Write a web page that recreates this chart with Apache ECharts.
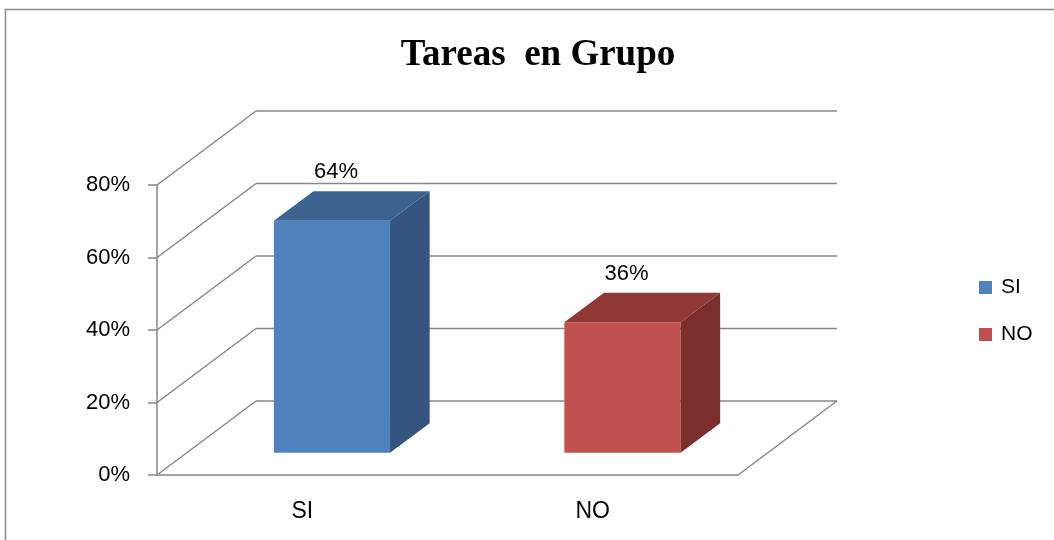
<!DOCTYPE html>
<html>
<head>
<meta charset="utf-8">
<title>Tareas en Grupo</title>
<script src="https://cdn.jsdelivr.net/npm/echarts@6/dist/echarts.min.js"></script>
<style>
    html, body { margin: 0; padding: 0; background: #fff; }
    #main { width: 1054px; height: 540px; }
</style>
</head>
<body>
<div id="main"></div>
<script>
// datos del grafico
var categorias = ['SI', 'NO'];
var valores = [64, 36];
var ticksY = [0, 20, 40, 60, 80];
var coloresFrente = ['#4F81BD', '#C0504D'];
var coloresTapa = ['#3D6391', '#8F3937'];
var coloresLado = ['#33557F', '#7A2F2D'];

(function () {
    var myChart = echarts.init(document.getElementById('main'));

    // desplazamiento de la profundidad (efecto 3D) en pixeles
    var PROF_X = 99;
    var PROF_Y = -74;
    var GRIS = '#878787';
    var FUENTE = '"Liberation Sans", Arial, sans-serif';

    // paredes: diagonales + lineas del fondo para cada marca del eje Y
    function pared(params, api) {
        var cs = params.coordSys;
        var p = api.coord([0, api.value(1)]);
        var y = p[1];
        var xi = cs.x, xd = cs.x + cs.width;
        var hijos = [
            { type: 'line', shape: { x1: xi, y1: y, x2: xi + PROF_X, y2: y + PROF_Y } },
            { type: 'line', shape: { x1: xi + PROF_X, y1: y + PROF_Y, x2: xd + PROF_X, y2: y + PROF_Y } }
        ];
        if (api.value(1) === 0) {
            hijos.push({ type: 'line', shape: { x1: xd, y1: y, x2: xd + PROF_X, y2: y + PROF_Y } });
        }
        hijos.forEach(function (h) {
            h.style = { stroke: GRIS, lineWidth: 1.5, fill: null };
        });
        return { type: 'group', children: hijos };
    }

    function barra(idx) {
        return function (params, api) {
            var base = api.coord([api.value(0), 0]);
            var tope = api.coord([api.value(0), api.value(1)]);
            var banda = api.size([1, 0])[0];
            var w = banda * 0.4;
            // la barra ocupa del 30% al 70% de la profundidad
            var ox = PROF_X * 0.3, oy = PROF_Y * 0.3;
            var dx = PROF_X * 0.4, dy = PROF_Y * 0.4;
            var x0 = base[0] - w / 2 + ox, x1 = x0 + w;
            var yb = base[1] + oy, yt = tope[1] + oy;
            return {
                type: 'group',
                children: [
                    {
                        type: 'polygon',
                        shape: { points: [[x0, yt], [x1, yt], [x1, yb], [x0, yb]] },
                        style: { fill: coloresFrente[idx] }
                    },
                    {
                        type: 'polygon',
                        shape: { points: [[x0, yt], [x0 + dx, yt + dy], [x1 + dx, yt + dy], [x1, yt]] },
                        style: { fill: coloresTapa[idx] }
                    },
                    {
                        type: 'polygon',
                        shape: { points: [[x1, yt], [x1 + dx, yt + dy], [x1 + dx, yb + dy], [x1, yb]] },
                        style: { fill: coloresLado[idx] }
                    },
                    {
                        type: 'text',
                        style: {
                            text: api.value(1) + '%',
                            x: (x0 + x1) / 2 + 4,
                            y: yt + dy - 8,
                            align: 'center',
                            verticalAlign: 'bottom',
                            textAlign: 'center',
                            textVerticalAlign: 'bottom',
                            font: '22px ' + FUENTE,
                            fill: '#000'
                        }
                    }
                ]
            };
        };
    }

    var series = [{
        name: 'pared',
        type: 'custom',
        z: 1,
        renderItem: pared,
        data: ticksY.map(function (v) { return [0, v]; })
    }];
    categorias.forEach(function (c, i) {
        series.push({
            name: c,
            type: 'custom',
            z: 3,
            renderItem: barra(i),
            itemStyle: { color: coloresFrente[i] },
            data: [[i, valores[i]]]
        });
    });

    var option = {
        animation: false,
        backgroundColor: '#fff',
        title: {
            text: 'Tareas  en Grupo',
            left: 533,
            top: 32,
            textAlign: 'center',
            textStyle: {
                fontFamily: '"Liberation Serif", "Times New Roman", serif',
                fontWeight: 'bold',
                fontSize: 37,
                color: '#000'
            }
        },
        legend: {
            data: categorias,
            orient: 'vertical',
            left: 979,
            top: 277,
            padding: 0,
            itemWidth: 13,
            itemHeight: 13,
            itemGap: 26,
            icon: 'rect',
            textStyle: {
                fontFamily: FUENTE,
                fontSize: 21,
                lineHeight: 21,
                color: '#000',
                padding: [0, 0, 0, 4]
            }
        },
        graphic: [{
            type: 'rect',
            shape: { x: 5.5, y: 9.5, width: 1200, height: 700 },
            style: { fill: null, stroke: '#8c8c8c', lineWidth: 1.5 },
            z: 0
        }],
        grid: {
            left: 157,
            right: 316,
            top: 185,
            bottom: 65
        },
        xAxis: {
            type: 'category',
            data: categorias,
            axisLine: { lineStyle: { color: GRIS, width: 1.5 } },
            axisTick: { length: 7, lineStyle: { color: GRIS, width: 1.5 } },
            axisLabel: {
                margin: 25,
                fontSize: 23,
                fontFamily: FUENTE,
                color: '#000'
            },
            splitLine: { show: false }
        },
        yAxis: {
            type: 'value',
            min: 0,
            max: 80,
            interval: 20,
            axisLine: { show: true, lineStyle: { color: GRIS, width: 1.5 } },
            axisTick: { show: true, length: 9, lineStyle: { color: GRIS, width: 1.5 } },
            axisLabel: {
                margin: 27,
                formatter: '{value}%',
                fontSize: 22,
                fontFamily: FUENTE,
                color: '#000'
            },
            splitLine: { show: false }
        },
        series: series
    };

    myChart.setOption(option);
})();
</script>
</body>
</html>
